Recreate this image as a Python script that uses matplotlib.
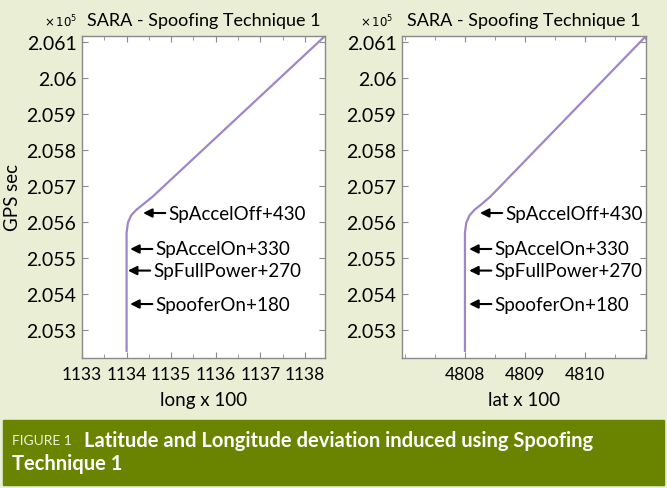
import matplotlib
matplotlib.use("Agg")
import matplotlib.pyplot as plt
from matplotlib.patches import Rectangle
from matplotlib.ticker import MultipleLocator, FixedLocator

# track data: GPS seconds vs position x 100
gps_sec = [205242, 205400, 205570, 205598, 205618, 205634, 205650, 205670, 206117]
long_x100 = [1134.0, 1134.0, 1134.0, 1134.03, 1134.1, 1134.22, 1134.38, 1134.58, 1138.45]
lat_x100 = [4808.0, 4808.0, 4808.0, 4808.022, 4808.075, 4808.16, 4808.28, 4808.42, 4811.02]

# events (label, GPS sec) and where the arrows point on each panel
event_labels = ["SpAccelOff+430", "SpAccelOn+330", "SpFullPower+270", "SpooferOn+180"]
event_sec = [205625, 205525, 205465, 205372]
event_long = [1134.37, 1134.08, 1134.03, 1134.08]
event_lat = [4808.25, 4808.07, 4808.07, 4808.07]

long_ticks = [1133, 1134, 1135, 1136, 1137, 1138]
lat_ticks = [4808, 4809, 4810]
gps_ticks = [205300, 205400, 205500, 205600, 205700, 205800, 205900, 206000, 206100]
gps_ticklabels = ["2.053", "2.054", "2.055", "2.056", "2.057", "2.058", "2.059", "2.06", "2.061"]

FONT = ["Lato", "DejaVu Sans"]
plt.rcParams["font.family"] = FONT
BG = "#e9eed4"
BAR = "#6a8400"
LINE = "#9f86c6"

W, H = 667, 489
fig = plt.figure(figsize=(W / 100, H / 100), dpi=100, facecolor=BG)


def px_axes(x0, x1, y0, y1):
    return fig.add_axes([x0 / W, 1 - y1 / H, (x1 - x0) / W, (y1 - y0) / H])


def style(ax, xlim, xticks, xlabel):
    ax.set_facecolor("white")
    ax.set_xlim(*xlim)
    ax.set_ylim(205222, 206117)
    ax.xaxis.set_major_locator(FixedLocator(xticks))
    ax.xaxis.set_minor_locator(MultipleLocator(0.5))
    ax.set_yticks(gps_ticks)
    ax.set_yticklabels(gps_ticklabels)
    ax.tick_params(which="both", direction="in", top=True, right=True,
                   color="#8a8a8a", pad=4)
    ax.tick_params(axis="y", labelsize=14)
    ax.tick_params(axis="x", labelsize=12.5, pad=6)
    ax.tick_params(which="major", length=4)
    ax.tick_params(which="minor", length=3)
    for s in ax.spines.values():
        s.set_color("#8a8a8a")
        s.set_linewidth(1.0)
    ax.set_xlabel(xlabel, fontsize=13.5, labelpad=6)
    ax.set_title("SARA - Spoofing Technique 1", fontsize=13, pad=8)


ax1 = px_axes(82, 325, 37, 359)
ax1.plot(long_x100, gps_sec, color=LINE, lw=1.6)
style(ax1, (1133, 1138.45), long_ticks, "long x 100")
ax1.set_ylabel("GPS sec", fontsize=13.5, labelpad=4)
for lab, t, xv in zip(event_labels, event_sec, event_long):
    ax1.annotate(lab, xy=(xv, t), xytext=(18, 0), textcoords="offset points",
                 ha="left", va="center", fontsize=13.5,
                 arrowprops=dict(arrowstyle="-|>", color="black", lw=1.5,
                                 shrinkA=0, shrinkB=0, mutation_scale=13))

ax2 = px_axes(402, 646, 37, 359)
ax2.plot(lat_x100, gps_sec, color=LINE, lw=1.6)
style(ax2, (4806.95, 4811.02), lat_ticks, "lat x 100")
for lab, t, xv in zip(event_labels, event_sec, event_lat):
    ax2.annotate(lab, xy=(xv, t), xytext=(18, 0), textcoords="offset points",
                 ha="left", va="center", fontsize=13.5,
                 arrowprops=dict(arrowstyle="-|>", color="black", lw=1.5,
                                 shrinkA=0, shrinkB=0, mutation_scale=13))

# exponent labels
fig.text(44 / W, 1 - 22 / H, r"$\times\,10^5$", fontsize=8.5, va="center", ha="left")
fig.text(360 / W, 1 - 22 / H, r"$\times\,10^5$", fontsize=8.5, va="center", ha="left")

# caption bar
fig.patches.append(Rectangle((3 / W, 1 - 486 / H), 661 / W, 65 / H,
                             transform=fig.transFigure, color=BAR, zorder=0))
fig.text(12 / W, 1 - 441 / H, "FIGURE 1", fontsize=10, color="#eef2d8",
         va="center", ha="left")
fig.text(84 / W, 1 - 441 / H, "Latitude and Longitude deviation induced using Spoofing",
         fontsize=14.5, color="white", fontweight="bold", va="center", ha="left")
fig.text(12 / W, 1 - 464 / H, "Technique 1", fontsize=14.5, color="white",
         fontweight="bold", va="center", ha="left")

fig.savefig("out.png", dpi=100, facecolor=BG)
